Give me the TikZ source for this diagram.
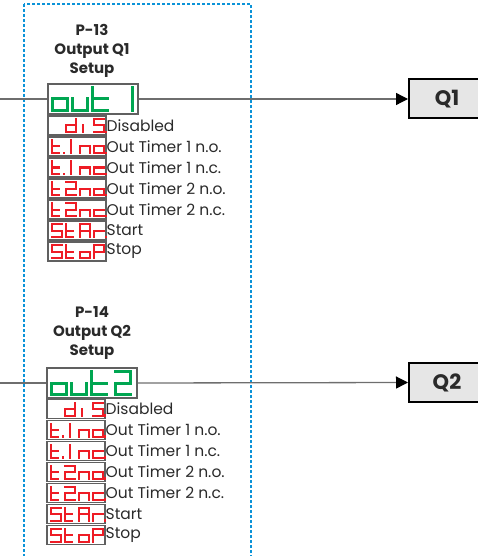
\documentclass[tikz,border=0pt]{standalone}
\usepackage{fontspec}
\setmainfont{Poppins}
\usetikzlibrary{arrows.meta}
\definecolor{dotblue}{HTML}{0B93D8}
\definecolor{segred}{HTML}{EE1C25}
\definecolor{seggreen}{HTML}{00A651}
\definecolor{conn}{HTML}{6E6E6E}
\definecolor{qfill}{HTML}{E6E6E6}
\definecolor{frame}{HTML}{606060}
\definecolor{txt}{HTML}{2A2A2A}

\newcommand\SW{10}
\newcommand\SH{13}
\newcommand\TF{0.72}
\newcommand\sga{\draw (0,0) -- (\SW,0);}
\newcommand\sgb{\draw (\SW,0) -- (\SW,\SH/2);}
\newcommand\sgc{\draw (\SW,\SH/2) -- (\SW,\SH);}
\newcommand\sgd{\draw (0,\SH) -- (\SW,\SH);}
\newcommand\sge{\draw (0,\SH/2) -- (0,\SH);}
\newcommand\sgf{\draw (0,0) -- (0,\SH/2);}
\newcommand\sgg{\draw (0,\SH/2) -- (\SW,\SH/2);}
\newcommand\svp{\fill (\SW+1.4,\SH+1) rectangle (\SW+3.6,\SH-1.2);}
\newcommand\svO{\sgc\sgd\sge\sgg}
\newcommand\svU{\sgc\sgd\sge}
\newcommand\svT{\draw (0,0) -- (0,\SH) -- (\TF*\SW,\SH); \draw (0,\SH/2) -- (\TF*\SW,\SH/2);}
\newcommand\svOne{\sgb\sgc}
\newcommand\svOneC{\draw (5,0) -- (5,\SH);}
\newcommand\svTwo{\sga\sgb\sgg\sge\sgd}
\newcommand\svD{\sgb\sgc\sgd\sge\sgg}
\newcommand\svI{\draw (3,\SH/2+1.5) -- (3,\SH); \fill (2,\SH/2-1) rectangle (4,\SH/2+0.5);}
\newcommand\svS{\sga\sgf\sgg\sgc\sgd}
\newcommand\svN{\sgc\sge\sgg}
\newcommand\svC{\sgd\sge\sgg}
\newcommand\svA{\sga\sgb\sgc\sge\sgf\sgg}
\newcommand\svR{\sge\sgg}
\newcommand\svP{\sga\sgb\sge\sgf\sgg}
\newcommand\svcell[3]{\begin{scope}[shift={(#1,#2)}]#3\end{scope}}

% name, cx, cy, c1, c2, c3, c4, label
\newcommand\svsmall[8]{%
  \node[smallbox] (#1) at (#2,#3) {};
  \begin{scope}[redseg]
    \svcell{#2-25.5}{#3-6.5}{#4}\svcell{#2-11.5}{#3-6.5}{#5}%
    \svcell{#2+2.5}{#3-6.5}{#6}\svcell{#2+16.5}{#3-6.5}{#7}%
  \end{scope}
  \node[lab] (#1l) at (#2+29.5,#3) {#8};}

\tikzset{
  smallbox/.style={draw=frame, line width=1.1pt, fill=white, minimum width=58pt, minimum height=19pt, inner sep=0pt},
  bigbox/.style={draw=frame, line width=1.1pt, fill=white, minimum width=90pt, minimum height=30pt, inner sep=0pt},
  redseg/.style={draw=segred, fill=segred, line width=2pt, line cap=rect},
  greenseg/.style={draw=seggreen, fill=seggreen, line width=3pt, line cap=rect},
  lab/.style={anchor=west, inner sep=0pt, text=txt, font=\fontsize{15.5}{16}\selectfont},
  title/.style={align=center, text=txt, inner sep=0pt, font=\bfseries\fontsize{15}{19}\selectfont},
  conn/.style={draw=conn, line width=1.3pt},
  qbox/.style={draw=black, line width=2pt, fill=qfill, minimum width=90pt, minimum height=39pt, anchor=west, inner sep=0pt},
  qtext/.style={text=txt, font=\bfseries\fontsize{21}{24}\selectfont, inner sep=0pt},
  tip/.style={-{Triangle[length=12pt,width=12pt,color=black]}}
}

\begin{document}
\begin{tikzpicture}[x=1pt,y=-1pt]
\useasboundingbox (0,0) rectangle (478,556);

% dotted frame
\draw[dotblue, line width=2.6pt, dash pattern=on 2.6pt off 2.4pt] (24,4) rectangle (251,600);

% ---------- group 1 ----------
\node[title] (t1) at (92,51) {P-13\\Output Q1\\Setup};
\coordinate (in1) at (0,99);
\node[bigbox] (out1) at (93,99) {};
\begin{scope}[greenseg]
  \def\SW{15}\def\SH{23}\def\TF{1}
  \svcell{52}{87.5}{\svO}\svcell{72}{87.5}{\svU}\svcell{92}{87.5}{\svT}\svcell{117}{87.5}{\svOne}
\end{scope}
\svsmall{a1}{77}{125.5}{}{\svD}{\svI}{\svS\svp}{Disabled}
\svsmall{a2}{77}{146.5}{\svT\svp}{\svOneC}{\svN}{\svO\svp}{Out Timer 1 n.o.}
\svsmall{a3}{77}{167.5}{\svT\svp}{\svOneC}{\svN}{\svC\svp}{Out Timer 1 n.c.}
\svsmall{a4}{77}{188.5}{\svT}{\svTwo}{\svN}{\svO\svp}{Out Timer 2 n.o.}
\svsmall{a5}{77}{209.5}{\svT}{\svTwo}{\svN}{\svC\svp}{Out Timer 2 n.c.}
\svsmall{a6}{77}{230.5}{\svS}{\svT}{\svA}{\svR\svp}{Start}
\svsmall{a7}{77}{251.5}{\svS}{\svT}{\svO}{\svP}{Stop}

\node[qbox] (q1) at (408,99) {};
\node[qtext] (q1t) at (447,99) {Q1};
\draw[conn] (in1) -- (out1.west);
\draw[conn, tip] (out1.east) -- (q1.west);

% ---------- group 2 ----------
\node[title] (t2) at (92,333.5) {P-14\\Output Q2\\Setup};
\coordinate (in2) at (0,383);
\node[bigbox] (out2) at (92,383) {};
\begin{scope}[greenseg]
  \def\SW{15}\def\SH{23}\def\TF{1}
  \svcell{51}{371.5}{\svO}\svcell{71}{371.5}{\svU}\svcell{91}{371.5}{\svT}\svcell{115}{371.5}{\svTwo}
\end{scope}
\svsmall{b1}{76}{409}{}{\svD}{\svI}{\svS\svp}{Disabled}
\svsmall{b2}{76}{430}{\svT\svp}{\svOneC}{\svN}{\svO\svp}{Out Timer 1 n.o.}
\svsmall{b3}{76}{451}{\svT\svp}{\svOneC}{\svN}{\svC\svp}{Out Timer 1 n.c.}
\svsmall{b4}{76}{472}{\svT}{\svTwo}{\svN}{\svO\svp}{Out Timer 2 n.o.}
\svsmall{b5}{76}{493}{\svT}{\svTwo}{\svN}{\svC\svp}{Out Timer 2 n.c.}
\svsmall{b6}{76}{514}{\svS}{\svT}{\svA}{\svR\svp}{Start}
\svsmall{b7}{76}{535}{\svS}{\svT}{\svO}{\svP}{Stop}

\node[qbox] (q2) at (408,382.5) {};
\node[qtext] (q2t) at (447,382.5) {Q2};
\draw[conn] (in2) -- (out2.west);
\draw[conn, tip] (out2.east) -- (q2.west);
\end{tikzpicture}
\end{document}
